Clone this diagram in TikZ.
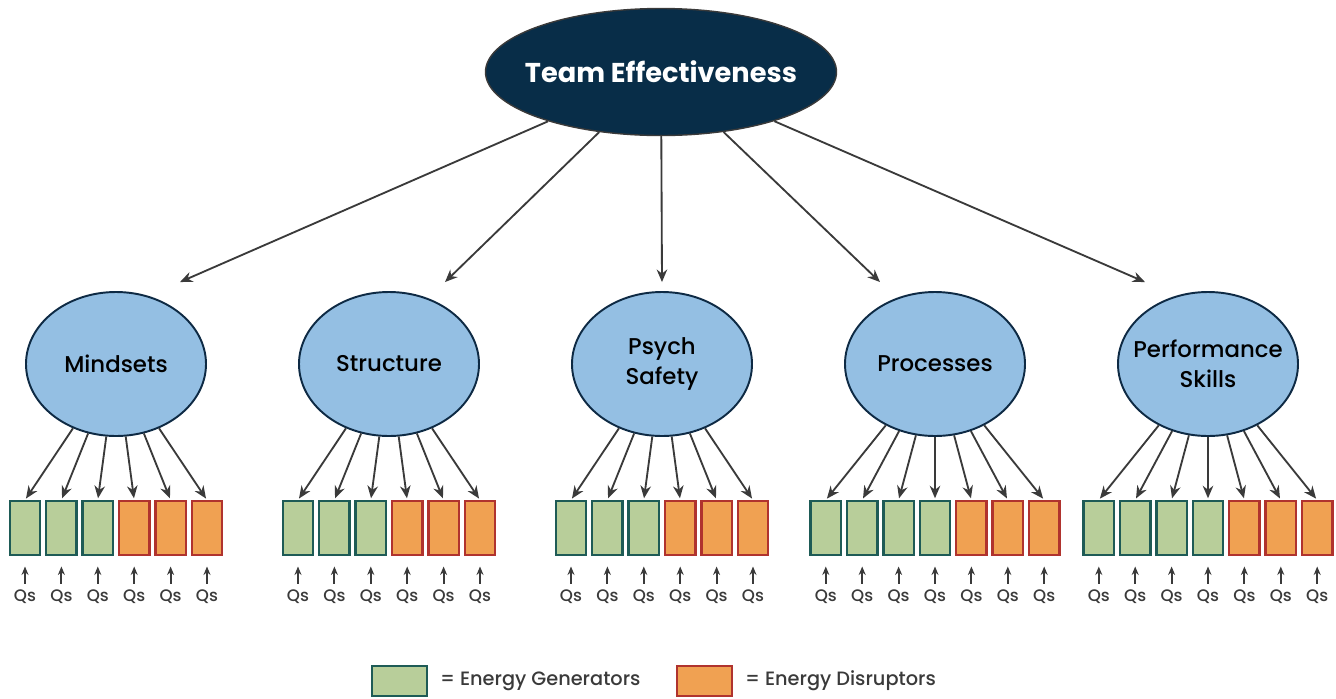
\documentclass[tikz,border=0pt]{standalone}
\usepackage{fontspec}
\setmainfont{Poppins}
\newfontfamily\medfont{Poppins Medium}
\usetikzlibrary{shapes.geometric,arrows.meta,positioning}

\definecolor{navy}{HTML}{082D48}
\definecolor{skyblue}{HTML}{94BFE3}
\definecolor{outline}{HTML}{0E2A44}
\definecolor{genfill}{HTML}{B8CE9A}
\definecolor{gendraw}{HTML}{1E5B56}
\definecolor{disfill}{HTML}{F0A152}
\definecolor{disdraw}{HTML}{B0332E}
\definecolor{arrowgray}{HTML}{3A3A3A}

\begin{document}
\begin{tikzpicture}
  [
  line width=1.05pt,
  link/.style={draw=arrowgray, -{Stealth[length=2.5mm, width=2.1mm]}},
  qlink/.style={draw=arrowgray, line width=1.05pt, shorten >=0.21cm, -{Stealth[length=1.7mm, width=1.4mm]}},
  factor/.style={ellipse, draw=outline, line width=1.1pt, fill=skyblue, inner xsep=-0.3cm, minimum width=3.6cm, minimum height=2.88cm, align=center, font=\fontsize{13}{17}\selectfont\medfont},
  gen/.style={rectangle, draw=gendraw, fill=genfill, line width=1.4pt, minimum width=0.61cm, minimum height=1.07cm},
  dis/.style={gen, draw=disdraw, fill=disfill},
  qs/.style={font=\fontsize{9.5}{10}\selectfont\medfont, text=arrowgray, inner sep=0pt, minimum height=0.5cm},
  legendtext/.style={font=\fontsize{11}{13}\selectfont\medfont, text=arrowgray}
  ]

\useasboundingbox (0,0) rectangle (26.72,-13.96);

\node[ellipse, draw=arrowgray, fill=navy, line width=0.8pt, inner xsep=-0.3cm, inner ysep=0pt, minimum width=7.02cm, minimum height=2.54cm, text=white, font=\fontsize{15.5}{18}\selectfont\bfseries] (team) at (13.22,-1.44) {Team Effectiveness};

\foreach \f/\cx/\dx/\ng/\nb/\name in {1/2.32/1.28/3/3/Mindsets, 2/7.78/1.12/3/3/Structure, 3/13.24/0/3/3/{Psych\\Safety}, 4/18.7/-1.1/4/3/Processes, 5/24.16/-1.26/4/3/{Performance\\Skills}} {
  \node[factor] (f\f) at (\cx,-7.28) {\name};
  \coordinate (t\f) at ([xshift=\dx cm, yshift=0.18cm]f\f.north);
  \draw[link] (team) -- (t\f);
  \pgfmathtruncatemacro\n{\ng+\nb}
  \foreach \i in {1,...,\n} {
    \ifnum\i>\ng \def\kind{dis}\else \def\kind{gen}\fi
    \node[\kind] (b\f-\i) at (\cx+0.728*\i-0.364*\n-0.364, -10.56) {};
    \node[qs] (q\f-\i) at (\cx+0.728*\i-0.364*\n-0.364, -11.94) {Qs};
    \draw[link, shorten >=1pt] (f\f) -- (b\f-\i.north);
    \draw[qlink] (q\f-\i.north) -- (b\f-\i.south);
  }
}

\node[gen, minimum width=1.1cm, minimum height=0.6cm] (lg) at (7.99,-13.62) {};
\node[legendtext, right=0.1cm of lg] (lgt) {= Energy Generators};
\node[dis, minimum width=1.1cm, minimum height=0.6cm] (ld) at (14.09,-13.62) {};
\node[legendtext, right=0.1cm of ld] (ldt) {= Energy Disruptors};

\end{tikzpicture}
\end{document}
